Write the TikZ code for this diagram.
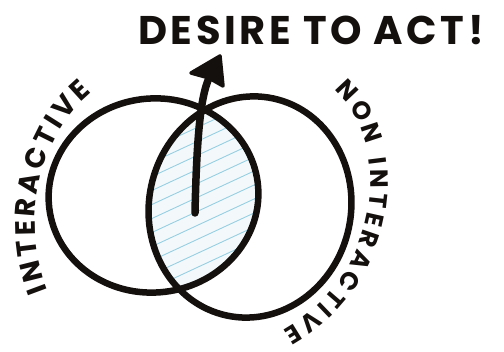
\documentclass[tikz,border=0pt]{standalone}
\usepackage{fontspec}
\usetikzlibrary{arrows.meta,decorations.text}
\newfontfamily\handfont{Poppins}[LetterSpace=9]
\newfontfamily\arcfont{Poppins}
\definecolor{hatchblue}{RGB}{150,206,226}
\definecolor{lensfill}{RGB}{243,249,251}
\definecolor{ink}{RGB}{20,16,14}
\tikzset{
  outline/.style={draw=ink, line width=6.5pt},
  hatch/.style={draw=hatchblue, line width=0.9pt},
  arcword/.style={decorate, decoration={text along path, text align={fit to path}, raise=-9pt, text format delimiters={|}{|}}},
  shaft/.style={draw=ink, line width=7.5pt, line cap=round},
  headshape/.style={fill=ink, draw=ink, line width=3.5pt, line join=round}
}
\begin{document}
\begin{tikzpicture}[x=1pt,y=1pt]
\useasboundingbox (0,0) rectangle (504,352);
% centres of the two sets
\coordinate (cl) at (153.5,156.5);
\coordinate (cr) at (250,145);
% lens hatching
\begin{scope}
  \clip[rotate around={7:(cl)}] (cl) ellipse [x radius=105pt, y radius=97pt];
  \clip[rotate around={-12:(cr)}] (cr) ellipse [x radius=101pt, y radius=111pt];
  \fill[lensfill] (100,20) rectangle (300,300);
  \foreach \i in {-14,...,16} {
    \draw[hatch] (110,100+\i*14) -- ++(200,93);
  }
\end{scope}
% the two sets
\draw[outline, rotate around={7:(cl)}] (cl) ellipse [x radius=105pt, y radius=97pt];
\draw[outline, rotate around={-12:(cr)}] (cr) ellipse [x radius=101pt, y radius=111pt];
% title
\node[text=ink, font=\handfont\bfseries\fontsize{40pt}{40pt}\selectfont] (title) at (311,322) {DESIRE TO ACT!};
% arrow
\coordinate (a0) at (195,139);
\coordinate (a1) at (209,274);
\coordinate (tip) at (220,296);
\draw[shaft] (a0) .. controls (197,235) and (203,260) .. (a1);
\path[headshape] (tip) -- (191,279) -- (a1) -- (223,266) -- cycle;
% curved labels
\coordinate (l0) at (39,58);
\coordinate (l1) at (86,266);
\coordinate (r0) at (341,268);
\coordinate (r1) at (288,14);
\path[arcword, decoration={text={|\arcfont\bfseries\fontsize{28pt}{28pt}\selectfont\color{ink}|INTERACTIVE}}]
  (l0) .. controls (14,120) and (23,214) .. (l1);
\path[arcword, decoration={text={|\arcfont\bfseries\fontsize{25pt}{25pt}\selectfont\color{ink}|NON INTERACTIVE}}]
  (r0) .. controls (402,215) and (395,75) .. (r1);
\end{tikzpicture}
\end{document}
